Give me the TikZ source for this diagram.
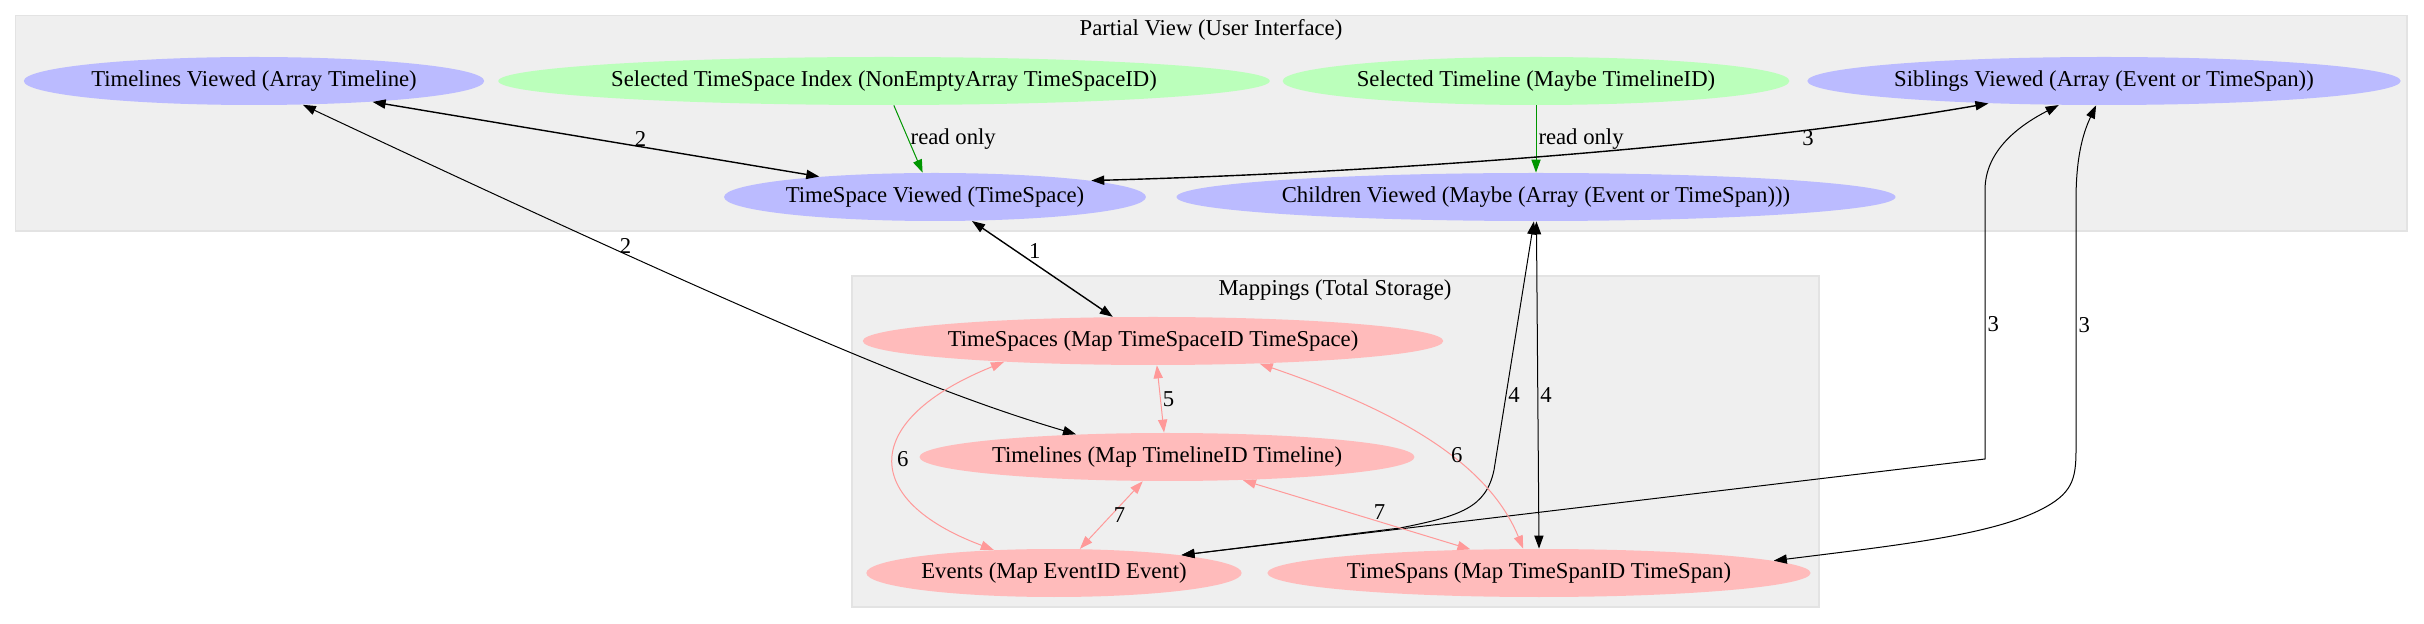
\documentclass[tikz,border=0pt]{standalone}
\usepackage{fontspec}
\setmainfont{Liberation Serif}
\usetikzlibrary{shapes.geometric,arrows.meta}
\definecolor{viewblue}{HTML}{BBBBFF}
\definecolor{selgreen}{HTML}{BBFFBB}
\definecolor{storepink}{HTML}{FFBBBB}
\definecolor{clusterbg}{HTML}{EFEFEF}
\definecolor{clusterline}{HTML}{E3E3E3}
\definecolor{roedge}{HTML}{009600}
\definecolor{pinkedge}{HTML}{FF9999}
\begin{document}
\begin{tikzpicture}[x=0.5pt,y=-0.5pt,
		font=\fontsize{11.35}{13}\selectfont,
		>={Triangle[length=6.5pt,width=4.6pt]},
		every node/.style={inner sep=1pt},
		state/.style={ellipse,inner sep=0pt,minimum height=24pt},
		view/.style={state,fill=viewblue},
		sel/.style={state,fill=selgreen},
		store/.style={state,fill=storepink},
		cluster/.style={fill=clusterbg,draw=clusterline,line width=0.6pt},
		link/.style={line width=0.7pt},
		thin link/.style={line width=0.5pt},
		ro/.style={draw=roedge,line width=0.5pt},
		mapedge/.style={draw=pinkedge,line width=0.5pt}]
			\useasboundingbox (0,0) rectangle (2424,624);
			\draw [cluster] (15.6,15.7) rectangle (2407,231);
			\draw [cluster] (852,276) rectangle (1819,607);
			\node (uititle) at (1211,30) {Partial View (User Interface)};
			\node (maptitle) at (1335,290) {Mappings (Total Storage)};
			\node (tlv) [view] at (254,81) {Timelines Viewed (Array Timeline)};
			\node (tsi) [sel] at (884,81) {Selected TimeSpace Index (NonEmptyArray TimeSpaceID)};
			\node (stl) [sel] at (1536,81) {Selected Timeline (Maybe TimelineID)};
			\node (sib) [view] at (2104,81) {Siblings Viewed (Array (Event or TimeSpan))};
			\node (tsv) [view] at (935,197) {TimeSpace Viewed (TimeSpace)};
			\node (chv) [view] at (1536,197) {Children Viewed (Maybe (Array (Event or TimeSpan)))};
			\node (tsm) [store] at (1153,341) {TimeSpaces (Map TimeSpaceID TimeSpace)};
			\node (tlm) [store] at (1167,457) {Timelines (Map TimelineID Timeline)};
			\node (evm) [store] at (1054,573) {Events (Map EventID Event)};
			\node (spm) [store] at (1539,573) {TimeSpans (Map TimeSpanID TimeSpan)};
			\draw [->,ro] (tsi.-68) -- node [right] {read only} (tsv.117);
			\draw [->,ro] (stl.-90) -- node [right] {read only} (chv.90);
			\draw [<->,link] (tlv.-10) -- node [pos=.6,above,inner sep=0pt] {2} (tsv.170);
			\draw [<->,link] (tsv.6) .. controls (1400,172) and (1750,145) .. node [pos=.77,below,inner sep=0pt] {3} (sib.-169);
			\draw [<->,link] (tsv.-33) -- node [pos=.4,above right,inner sep=0pt] {1} (tsm.149);
			\draw [<->,thin link] (tlv.-26) .. controls (820,348) and (960,400) .. node [pos=.25,above,inner sep=0pt] {2} (tlm.166);
			\draw [<->,thin link] (chv.-95) -- node [pos=.7,right] {4} (1494,470) .. controls (1486,508) and (1460,516) .. (1400,528) -- (evm.8);
			\draw [<->,thin link] (chv.-89) -- node [pos=.53,right] {4} (spm.90);
			\draw [<->,thin link] (evm.8) -- (1985,459) -- node [right] {3} (1985,190) .. controls (1985,150) and (2020,125) .. (sib.-152);
			\draw [<->,thin link] (spm.3) .. controls (1900,545) and (1990,535) .. (2040,510) .. controls (2072,494) and (2076,480) .. (2076,450) -- node [right] {3} (2076,200) .. controls (2076,160) and (2082,135) .. (sib.-108);
			\draw [<->,mapedge] (tsm.-81) -- node [right] {5} (tlm.97);
			\draw [<->,mapedge] (tsm.-172) .. controls (860,420) and (860,500) .. node [right] {6} (evm.159);
			\draw [<->,mapedge] (tsm.-12) .. controls (1380,405) and (1485,455) .. node [pos=.6,right] {6} (spm.123);
			\draw [<->,mapedge] (tlm.-135) -- node [right] {7} (evm.43);
			\draw [<->,mapedge] (tlm.-17) -- node [pos=.6,above] {7} (spm.161);
		\end{tikzpicture}
\end{document}
